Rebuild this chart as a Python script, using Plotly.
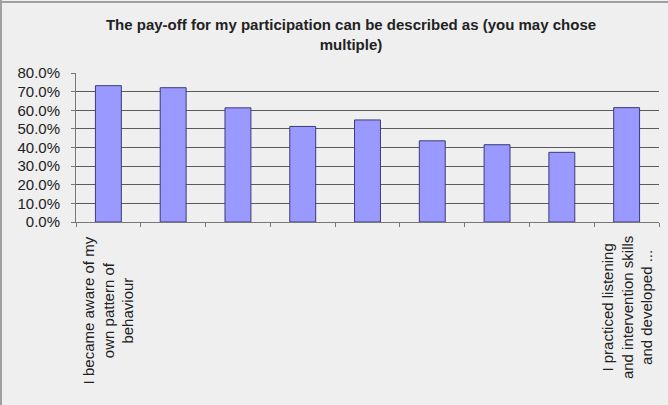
import plotly.graph_objects as go

# Survey answers (share of respondents) for each pay-off option
categories = ["Q1", "Q2", "Q3", "Q4", "Q5", "Q6", "Q7", "Q8", "Q9"]
values = [73.2, 72.1, 61.3, 51.3, 54.8, 43.6, 41.5, 37.4, 61.4]
category_labels = [
    "I became aware of my<br>own pattern of<br>behaviour",
    "", "", "", "", "", "", "",
    "I practiced listening<br>and intervention skills<br>and developed ...",
]
y_ticks = [0, 10, 20, 30, 40, 50, 60, 70, 80]
y_tick_text = [f"{v:.1f}%" for v in y_ticks]

FONT = "Liberation Sans, Arial, sans-serif"
BG = "#efefef"

fig = go.Figure(
    go.Bar(
        x=categories,
        y=values,
        width=0.4,
        marker=dict(color="#9999ff", line=dict(color="#3c3c78", width=1)),
    )
)

for cat, lab in zip(categories, category_labels):
    if lab:
        fig.add_annotation(
            x=cat, y=0, xref="x", yref="paper",
            text=lab, textangle=-90, showarrow=False,
            xanchor="center", yanchor="top", yshift=-12,
            align="center",
            font=dict(family=FONT, size=15, color="#222222"),
        )

fig.update_layout(
    width=668, height=405,
    margin=dict(l=76, r=9, t=73, b=183),
    paper_bgcolor=BG, plot_bgcolor=BG,
    showlegend=False,
    bargap=0.6,
    title=dict(
        text="<b>The pay-off for my participation can be described as (you may chose<br>multiple)</b>",
        x=351 / 668, xanchor="center", xref="container",
        y=1 - 30 / 405, yanchor="top", yref="container",
        font=dict(family=FONT, size=15, color="#222222"),
    ),
    shapes=[
        dict(type="line", xref="paper", yref="paper",
             x0=-75 / 583, x1=-75 / 583, y0=-183 / 149, y1=1 + 73 / 149,
             line=dict(color="#a0a0a0", width=2)),
        dict(type="line", xref="paper", yref="paper",
             x0=-76 / 583, x1=1 + 9 / 583, y0=1 + 71 / 149, y1=1 + 71 / 149,
             line=dict(color="#a0a0a0", width=2)),
    ],
)

fig.update_xaxes(
    type="category",
    showticklabels=False,
    ticks="outside", ticklen=4, tickcolor="#777777",
    tickson="boundaries",
    showline=True, linecolor="#777777", linewidth=1,
    showgrid=False,
)
fig.update_yaxes(
    range=[0, 80],
    tickvals=y_ticks, ticktext=y_tick_text,
    ticks="outside", ticklen=4, tickcolor="#777777",
    ticklabelstandoff=8,
    tickfont=dict(family=FONT, size=15, color="#222222"),
    showline=True, linecolor="#777777", linewidth=1,
    showgrid=True, gridcolor="#5a5a5a", gridwidth=1,
    zeroline=False,
)

fig.write_html("out.html")
